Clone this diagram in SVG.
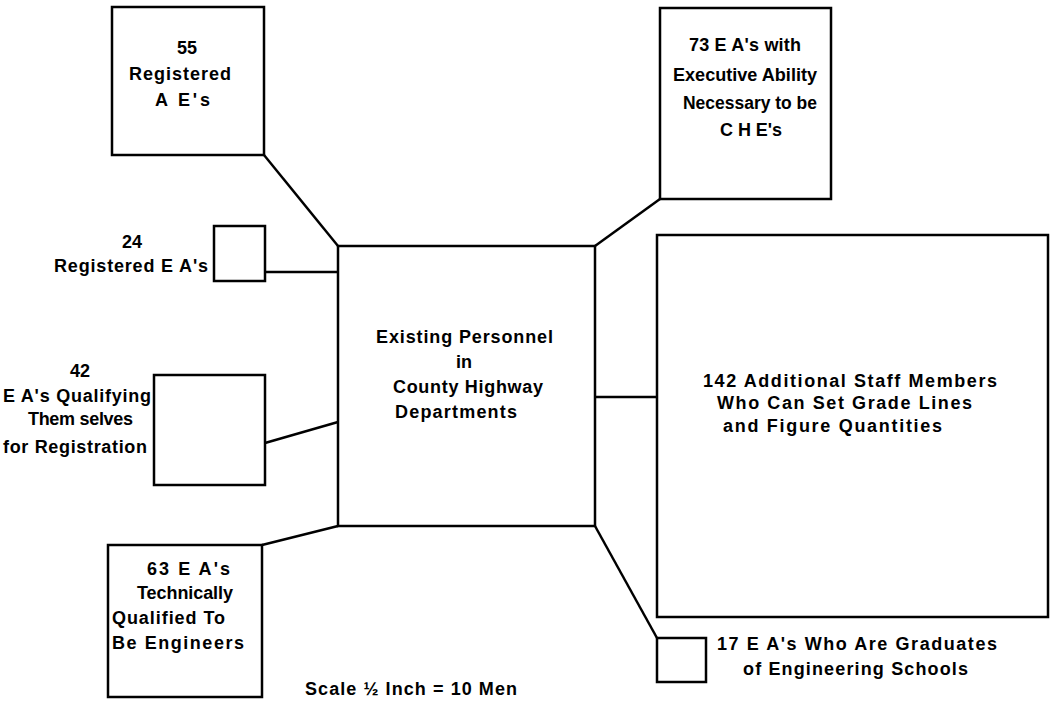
<svg xmlns="http://www.w3.org/2000/svg" width="1052" height="702" viewBox="0 0 1052 702">
<style>
.box{fill:none;stroke:#000;stroke-width:2.5}
.con{fill:none;stroke:#000;stroke-width:2.5}
text{font-family:"Liberation Sans",Arial,sans-serif;font-weight:bold;font-size:18px;fill:#000}
.m{text-anchor:middle}
</style>
<rect width="1052" height="702" fill="#fff"/>
<g id="connectors">
<line class="con" x1="264" y1="155" x2="338" y2="246"/>
<line class="con" x1="660" y1="199" x2="595" y2="246"/>
<line class="con" x1="265" y1="272" x2="338" y2="272"/>
<line class="con" x1="265" y1="443" x2="338" y2="422"/>
<line class="con" x1="262" y1="545" x2="338" y2="526"/>
<line class="con" x1="595" y1="397" x2="657" y2="397"/>
<line class="con" x1="595" y1="526" x2="657" y2="638"/>
</g>
<g id="center">
<rect class="box" x="338" y="246" width="257" height="280"/>
<text x="376" y="343" textLength="177" lengthAdjust="spacing">Existing Personnel</text>
<text x="464" y="368" class="m">in</text>
<text x="393" y="393" textLength="150" lengthAdjust="spacing">County Highway</text>
<text x="395" y="418" textLength="122" lengthAdjust="spacing">Departments</text>
</g>
<g id="n55">
<rect class="box" x="112" y="7" width="152" height="148"/>
<text x="187" y="54" class="m">55</text>
<text x="129" y="80" textLength="102" lengthAdjust="spacing">Registered</text>
<text x="155" y="106" textLength="55" lengthAdjust="spacing">A E's</text>
</g>
<g id="n73">
<rect class="box" x="660" y="8" width="171" height="191"/>
<text x="689" y="51" textLength="112" lengthAdjust="spacing">73 E A's with</text>
<text x="673" y="81" textLength="144" lengthAdjust="spacingAndGlyphs">Executive Ability</text>
<text x="683" y="109" textLength="134" lengthAdjust="spacingAndGlyphs">Necessary to be</text>
<text x="720" y="136" textLength="62" lengthAdjust="spacing">C H E's</text>
</g>
<g id="n24">
<rect class="box" x="214" y="226" width="51" height="55"/>
<text x="132" y="248" class="m">24</text>
<text x="54" y="272" textLength="154" lengthAdjust="spacing">Registered E A's</text>
</g>
<g id="n42">
<rect class="box" x="154" y="375" width="111" height="110"/>
<text x="80" y="377" class="m">42</text>
<text x="3" y="402" textLength="148" lengthAdjust="spacing">E A's Qualifying</text>
<text x="28" y="425" textLength="105" lengthAdjust="spacing">Them selves</text>
<text x="3" y="453" textLength="144" lengthAdjust="spacing">for Registration</text>
</g>
<g id="n142">
<rect class="box" x="657" y="235" width="391" height="382"/>
<text x="703" y="387" textLength="294" lengthAdjust="spacing">142 Additional Staff Members</text>
<text x="717" y="409" textLength="255" lengthAdjust="spacing">Who Can Set Grade Lines</text>
<text x="723" y="432" textLength="219" lengthAdjust="spacing">and Figure Quantities</text>
</g>
<g id="n63">
<rect class="box" x="108" y="545" width="154" height="152"/>
<text x="147" y="575" textLength="83" lengthAdjust="spacing">63 E A's</text>
<text x="137" y="599" textLength="96" lengthAdjust="spacing">Technically</text>
<text x="112" y="624" textLength="113" lengthAdjust="spacing">Qualified To</text>
<text x="112" y="649" textLength="132" lengthAdjust="spacing">Be Engineers</text>
</g>
<g id="n17">
<rect class="box" x="657" y="638" width="49" height="44"/>
<text x="717" y="650" textLength="280" lengthAdjust="spacing">17 E A's Who Are Graduates</text>
<text x="743" y="675" textLength="225" lengthAdjust="spacing">of Engineering Schools</text>
</g>
<g id="scale">
<text x="305" y="695" textLength="212" lengthAdjust="spacing">Scale ½ Inch = 10 Men</text>
</g>
</svg>
